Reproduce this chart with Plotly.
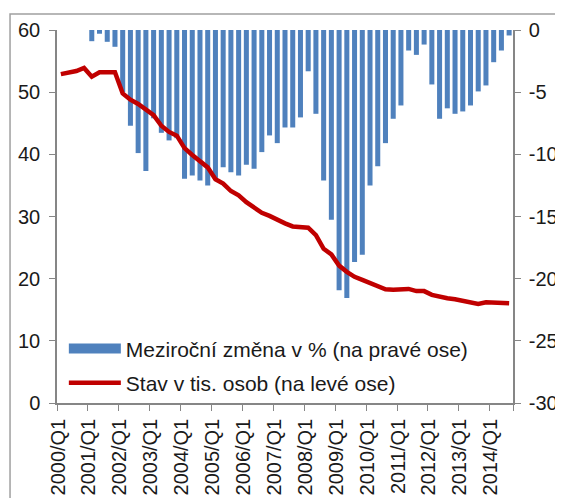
import plotly.graph_objects as go

# quarters 2000/Q1 .. 2014/Q3
years = list(range(2000, 2015))
quarters = [f"{y}/Q{q}" for y in years for q in range(1, 5)][:59]

# stav v tis. osob (left axis), one value per quarter
stav = [52.9, 53.1, 53.4, 53.9, 52.5, 53.2, 53.2, 53.2, 49.8, 48.8,
        48.1, 47.3, 46.3, 44.6, 43.6, 43.0, 41.0, 39.9, 38.9, 37.9,
        36.0, 35.3, 34.1, 33.4, 32.3, 31.5, 30.6, 30.1, 29.4, 28.9,
        28.4, 28.3, 28.2, 27.0, 24.8, 23.9, 22.1, 21.1, 20.3, 19.8,
        19.35, 18.8, 18.3, 18.2, 18.2, 18.35, 18.0, 18.0, 17.4, 17.1,
        16.85, 16.7, 16.5, 16.2, 15.95, 16.2, 16.1, 16.05, 16.05]

# mezirocni zmena v % (right axis), from 2001/Q1
zmena = [-0.9, -0.3, -0.95, -1.35, -5.0, -7.7, -9.9, -11.35, -7.1, -8.27,
         -8.88, -8.7, -11.96, -11.7, -12.1, -12.5, -12.0, -11.03, -11.45, -11.7,
         -10.84, -11.16, -9.82, -8.48, -9.1, -7.84, -7.84, -7.03, -3.32, -6.74,
         -12.1, -15.26, -20.94, -21.56, -18.66, -18.07, -12.5, -10.95, -9.1, -7.14,
         -6.07, -1.65, -2.0, -1.17, -4.38, -7.14, -6.3, -6.74, -6.55, -6.07,
         -4.94, -4.46, -2.59, -1.65, -0.44]

left_ticks = [0, 10, 20, 30, 40, 50, 60]
right_ticks = [0, -5, -10, -15, -20, -25, -30]

bar_name = "Meziroční změna v % (na pravé ose)"
line_name = "Stav v tis. osob (na levé ose)"

x_line = list(range(len(quarters)))
x_bar = list(range(len(quarters) - len(zmena), len(quarters)))

year_pos = [i - 0.5 for i, q in enumerate(quarters) if q.endswith("Q1")] + [len(quarters) - 0.5]
year_lab = [q for q in quarters if q.endswith("Q1")] + [""]

font = dict(family="Liberation Sans, Arial, sans-serif", size=20, color="#1a1a1a")
axis_col = "#868686"
blue = "#4F81BD"
red = "#C00000"

fig = go.Figure()

fig.add_trace(
    go.Bar(
        x=x_bar,
        y=zmena,
        width=0.65,
        marker=dict(color=blue, line=dict(width=0)),
        name=bar_name,
        showlegend=False,
        yaxis="y",
    )
)

# legend entry for the bars, drawn as a wide band like the original
fig.add_trace(
    go.Scatter(
        x=[None], y=[None], mode="lines",
        line=dict(color=blue, width=10),
        name=bar_name, legendgroup="a", yaxis="y",
    )
)

fig.add_trace(
    go.Scatter(
        x=x_line,
        y=stav,
        mode="lines",
        line=dict(color=red, width=4.5),
        name=line_name,
        legendgroup="b",
        yaxis="y2",
    )
)

# the page body adds an 8px offset top/left, so the figure is 8px smaller
fig.update_layout(
    width=555,
    height=490,
    margin=dict(l=49, r=50, t=22, b=95, pad=0),
    paper_bgcolor="white",
    plot_bgcolor="white",
    font=font,
    showlegend=True,
    legend=dict(
        x=0.015, y=0.2, xanchor="left", yanchor="top",
        bgcolor="rgba(0,0,0,0)", itemwidth=52, tracegroupgap=4,
        traceorder="grouped",
        font=dict(family=font["family"], size=21, color=font["color"]),
    ),
    xaxis=dict(
        range=[-0.5, len(quarters) - 0.5], automargin=False,
        tickmode="array", tickvals=year_pos, ticktext=year_lab,
        tickangle=-90, ticks="outside", ticklen=6, tickcolor=axis_col,
        showline=True, linecolor=axis_col, linewidth=1.5,
        showgrid=False, zeroline=False, ticklabelshift=1,
    ),
    yaxis=dict(
        side="right", range=[-30, 0], automargin=False,
        tickmode="array", tickvals=right_ticks, ticktext=[str(v) for v in right_ticks],
        ticks="outside", ticklen=6, tickcolor=axis_col, ticklabelstandoff=4,
        showline=True, linecolor=axis_col, linewidth=1.5,
        showgrid=False, zeroline=False,
    ),
    yaxis2=dict(
        side="left", overlaying="y", range=[0, 60], automargin=False,
        tickmode="array", tickvals=left_ticks,
        ticks="outside", ticklen=6, tickcolor=axis_col, ticklabelstandoff=5,
        showline=True, linecolor=axis_col, linewidth=1.5,
        showgrid=False, zeroline=False,
    ),
    # outer chart frame (top and left edges are in view)
    shapes=[
        dict(type="path", xref="paper", yref="paper",
             path="M -0.103,-0.26 L -0.103,1.043 L 1.12,1.043",
             line=dict(color="#a0a0a0", width=1.5), layer="above"),
    ],
)

fig.write_html("out.html", config={"displayModeBar": False})
